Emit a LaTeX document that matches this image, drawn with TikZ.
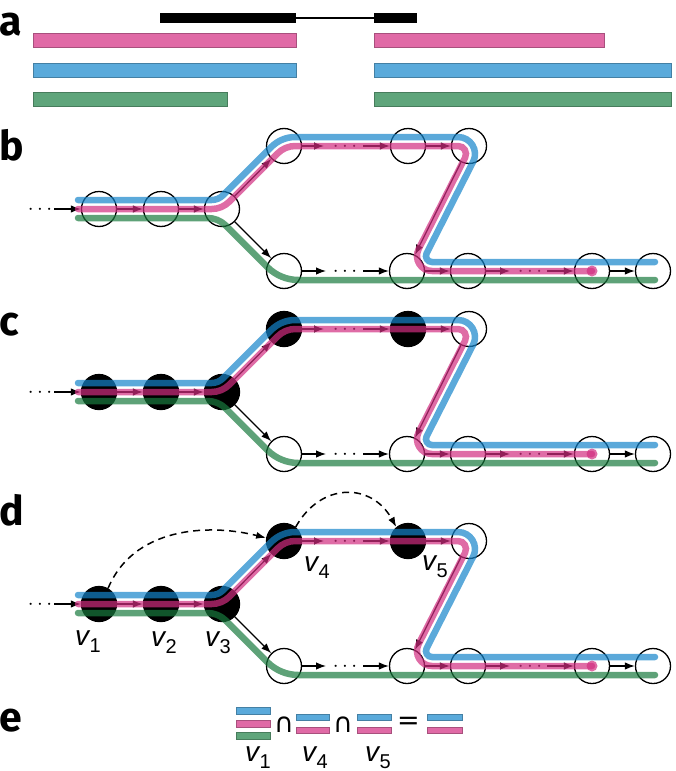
\documentclass[tikz,border=0pt]{standalone}
\usepackage{fontspec}
\setmainfont{Liberation Sans}
\newfontfamily\lblfont{Fira Sans}
\newfontfamily\symfont{DejaVu Sans}
\usetikzlibrary{arrows.meta}
\definecolor{pinkS}{RGB}{209,45,128}
\definecolor{blueS}{RGB}{21,132,202}
\definecolor{greenS}{RGB}{25,122,62}
\definecolor{pinkA}{RGB}{224,106,166}
\definecolor{blueA}{RGB}{90,170,219}
\definecolor{greenA}{RGB}{95,165,123}
\tikzset{
 gnode/.style={circle, draw=black, line width=1.3pt, minimum size=35pt, inner sep=0pt},
 opennode/.style={gnode},
 fillnode/.style={gnode, fill=black},
 edge/.style={line width=1.2pt, -{Latex[length=10pt,width=7.5pt]}},
 strand/.style={line width=6.5pt, opacity=0.7, line cap=round},
 dotsnode/.style={anchor=base, inner sep=0pt, font=\fontsize{20}{20}\selectfont},
 panellbl/.style={anchor=base west, inner sep=0pt, font=\lblfont\bfseries\fontsize{41}{41}\selectfont},
 vlbl/.style={anchor=base west, inner sep=0pt},
 pinkbar/.style={fill=pinkA, draw=pinkA!75!black, line width=0.5pt},
 bluebar/.style={fill=blueA, draw=blueA!75!black, line width=0.5pt},
 greenbar/.style={fill=greenA, draw=greenA!75!black, line width=0.5pt},
 dasharc/.style={line width=1.5pt, dash pattern=on 7pt off 5pt, -{Latex[length=10pt,width=7pt]}},
 symb/.style={inner sep=0pt, font=\symfont\fontsize{27}{27}\selectfont}
}
\newcommand\vfnt{\fontsize{28}{28}\selectfont\itshape}
\newcommand\sfnt{\fontsize{20}{20}\selectfont\upshape}
\newcommand\vsub[1]{{\vfnt v}\kern0.5pt\raisebox{-7pt}{\sfnt #1}}
\newcommand\drawpanel[3]{%
\begin{scope}[shift={(0,#2)}]
 \node[#3] (#1n1) at (99,209) {};
 \node[#3] (#1n2) at (161,209) {};
 \node[#3] (#1n3) at (222,209) {};
 \node[#3] (#1u1) at (284,146) {};
 \node[#3] (#1u2) at (408,146) {};
 \node[opennode] (#1u3) at (469,146) {};
 \node[opennode] (#1l1) at (284,271) {};
 \node[opennode] (#1l2) at (407,271) {};
 \node[opennode] (#1l3) at (468,271) {};
 \node[opennode] (#1l4) at (592,271) {};
 \node[opennode] (#1l5) at (653,271) {};
 \node[dotsnode] (#1d0) at (40,214) {$\cdots$};
 \node[dotsnode] (#1d1) at (345,151) {$\cdots$};
 \node[dotsnode] (#1d2) at (345,276) {$\cdots$};
 \node[dotsnode] (#1d3) at (530,276) {$\cdots$};
 \coordinate (#1s0) at (54,209);
 \coordinate (#1a1) at (324,146);
 \coordinate (#1b1) at (363,146);
 \coordinate (#1a2) at (326,271);
 \coordinate (#1b2) at (363,271);
 \coordinate (#1a3) at (510,271);
 \coordinate (#1b3) at (547,271);
 \draw[edge] (#1s0) -- (#1n1);
 \draw[edge] (#1n1) -- (#1n2);
 \draw[edge] (#1n2) -- (#1n3);
 \draw[edge] (#1n3) -- (#1u1);
 \draw[edge] (#1n3) -- (#1l1);
 \draw[edge] (#1u1) -- (#1a1);
 \draw[edge] (#1b1) -- (#1u2);
 \draw[edge] (#1u2) -- (#1u3);
 \draw[edge] (#1u3) -- (#1l2);
 \draw[edge] (#1l1) -- (#1a2);
 \draw[edge] (#1b2) -- (#1l2);
 \draw[edge] (#1l2) -- (#1l3);
 \draw[edge] (#1l3) -- (#1a3);
 \draw[edge] (#1b3) -- (#1l4);
 \draw[edge] (#1l4) -- (#1l5);
 \draw[strand, greenS] (78,218) -- (207.51,218) .. controls (214.41,218) and (221.02,220.74) .. (225.9,225.62) -- (267.4,267.12) .. controls (275.65,275.37) and (286.83,280) .. (298.5,280) -- (655,280);
 \draw[strand, blueS] (78,200) -- (211.65,200) .. controls (215.89,200) and (219.97,198.31) .. (222.97,195.31) -- (271.32,146.96) .. controls (277.7,140.58) and (286.34,137) .. (295.36,137) -- (458,137) .. controls (470.7,137) and (478.9,150.4) .. (473.15,161.7) -- (426.6,253.3) .. controls (424.6,257.3) and (427.5,262) .. (432,262) -- (655,262);
 \draw[strand, pinkS] (78,209) -- (211.64,209) .. controls (218.27,209) and (224.64,206.36) .. (229.33,201.67) -- (277.67,153.33) .. controls (282.36,148.64) and (288.73,146) .. (295.36,146) -- (458,146) .. controls (464,146) and (467.8,152.3) .. (465.1,157.6) -- (418.6,249.16) .. controls (413.5,259.1) and (420.8,271) .. (432,271) -- (592,271);
 \fill[pinkS, opacity=0.7] (592,271) circle (5.5);
\end{scope}}
\begin{document}
\begin{tikzpicture}[x=1pt,y=-1pt]
\useasboundingbox (0,0) rectangle (675,771);
% panel a
\node[panellbl] (la) at (-1,35) {a};
\fill[black] (160,13) rectangle (296,23);
\draw[line width=2pt] (296,18) -- (374,18);
\fill[black] (374,13) rectangle (417,23);
\draw[pinkbar] (33,33.5) rectangle (296,47);
\draw[pinkbar] (374,33.5) rectangle (604,47);
\draw[bluebar] (33,63) rectangle (296,77);
\draw[bluebar] (374,63) rectangle (671,77);
\draw[greenbar] (33,92.5) rectangle (227,106);
\draw[greenbar] (374,92.5) rectangle (671,106);
% panels b c d
\node[panellbl] (lb) at (-1,160) {b};
\drawpanel{b}{0}{opennode}
\node[panellbl] (lc) at (-1,335) {c};
\drawpanel{c}{183}{fillnode}
\node[panellbl] (ld) at (-1,525) {d};
\drawpanel{d}{395}{fillnode}
\draw[dasharc] (dn1.60) .. controls +(25,-60) and +(-60,-15) .. (du1.170);
\draw[dasharc] (du1.50) .. controls +(25,-45) and +(-25,-45) .. (du2.130);
\node[vlbl] (v1) at (75,645) {\vsub{1}};
\node[vlbl] (v2) at (151,646) {\vsub{2}};
\node[vlbl] (v3) at (205,646) {\vsub{3}};
\node[vlbl] (v4) at (304,571) {\vsub{4}};
\node[vlbl] (v5) at (422,570) {\vsub{5}};
% panel e
\node[panellbl] (le) at (-1,731) {e};
\draw[bluebar, line width=0.4pt] (236,707) rectangle (270,714);
\draw[pinkbar, line width=0.4pt] (236,720.5) rectangle (270,727);
\draw[greenbar, line width=0.4pt] (236,732.5) rectangle (270,739);
\node[symb] (cap1) at (284,725) {∩};
\draw[bluebar, line width=0.4pt] (296,714) rectangle (329,720.5);
\draw[pinkbar, line width=0.4pt] (296,727) rectangle (329,733.5);
\node[symb] (cap2) at (343,725) {∩};
\draw[bluebar, line width=0.4pt] (357,714) rectangle (391,720.5);
\draw[pinkbar, line width=0.4pt] (357,727) rectangle (391,733.5);
\node[symb] (eq) at (408.5,723.5) {=};
\draw[bluebar, line width=0.4pt] (427,714) rectangle (462,720.5);
\draw[pinkbar, line width=0.4pt] (427,727) rectangle (462,733.5);
\node[vlbl] (ev1) at (245,761) {\vsub{1}};
\node[vlbl] (ev4) at (302,761) {\vsub{4}};
\node[vlbl] (ev5) at (365,761) {\vsub{5}};
\end{tikzpicture}
\end{document}
